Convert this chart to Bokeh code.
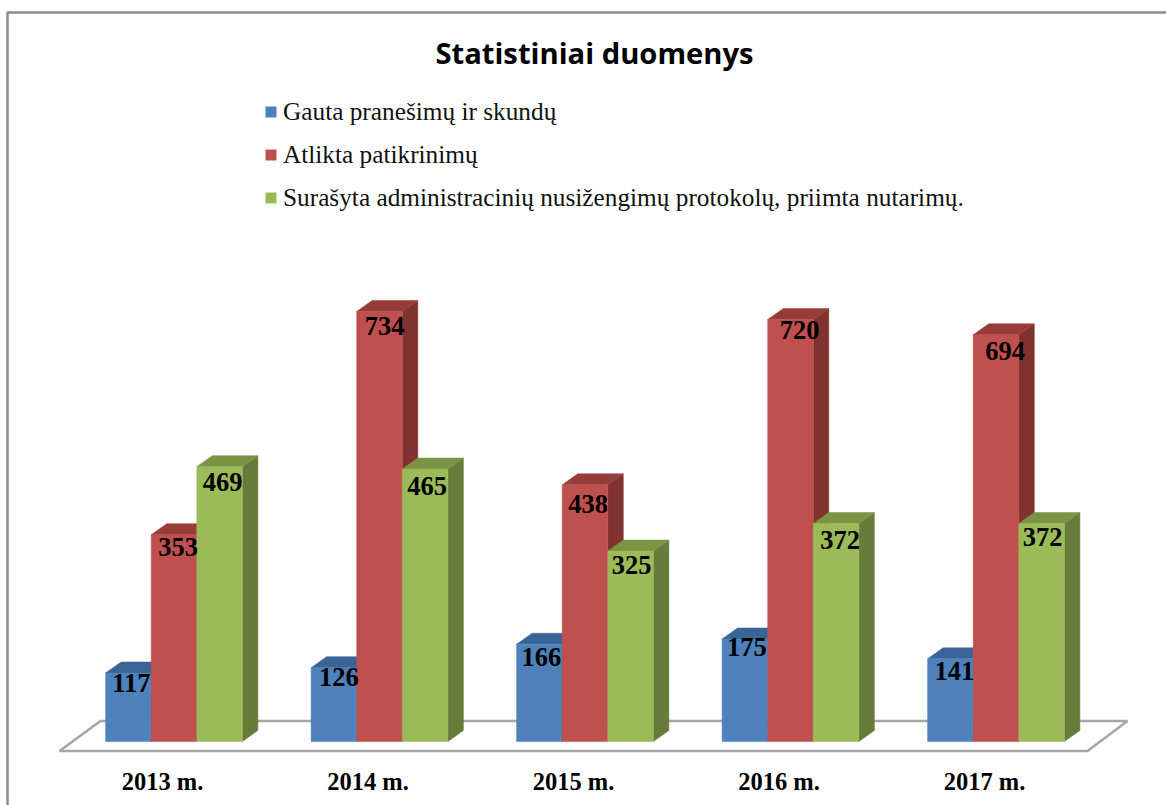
from bokeh.embed import file_html
from bokeh.models import ColumnDataSource, FixedTicker, Legend, LegendItem, Range1d
from bokeh.plotting import figure
from bokeh.resources import INLINE
from bokeh.core.properties import value

TITLE = "Statistiniai duomenys"
years = ["2013 m.", "2014 m.", "2015 m.", "2016 m.", "2017 m."]
series_names = [
    "Gauta pranešimų ir skundų",
    "Atlikta patikrinimų",
    "Surašyta administracinių nusižengimų protokolų, priimta nutarimų.",
]
gauta = [117, 126, 166, 175, 141]
atlikta = [353, 734, 438, 720, 694]
surasyta = [469, 465, 325, 372, 372]

front = ["#4F81BD", "#C0504D", "#9BBB59"]
top = ["#3B6496", "#963D3A", "#7A9444"]
side = ["#35598A", "#7F3230", "#677B3A"]

# label nudges, px relative to the bar's centre and top edge
dx_lab = [[3, 5, 2, 2, 4], [4, 5, 3, 9, 9], [3, 2, 1, 4, 1]]
dy_lab = [[10, 9, 13, 8, 12], [12, 15, 19, 10, 16], [15, 17, 14, 16, 13]]

W, H = 1166, 805
PX_X = 205.5          # px per category
PX_Y = 0.586          # px per value unit
X0, Y0 = 162, 741     # px of first category centre and of zero
xd = lambda px: (px - X0) / PX_X
yd = lambda py: (Y0 - py) / PX_Y

p = figure(width=W, height=H, output_backend="svg", toolbar_location=None,
           x_range=Range1d(xd(0), xd(W)), y_range=Range1d(yd(H), yd(0)),
           min_border=0, margin=0,
           outline_line_color=None, background_fill_color="white")
p.grid.visible = False
p.yaxis.visible = False
ax = p.xaxis[0]
ax.ticker = FixedTicker(ticks=list(range(len(years))))
ax.major_label_overrides = {i: y for i, y in enumerate(years)}
ax.fixed_location = yd(767)
ax.axis_line_color = None
ax.major_tick_line_color = None
ax.minor_tick_line_color = None
ax.major_tick_in = 0
ax.major_tick_out = 0
ax.major_label_text_font = "Liberation Serif"
ax.major_label_text_font_style = "bold"
ax.major_label_text_font_size = "24.5px"
ax.major_label_text_color = "#000000"
ax.major_label_standoff = 0

# chart border (only the top and left edges are visible in the reference)
p.line([xd(7), xd(7), xd(W)], [yd(H), yd(12), yd(12)], line_color="#8C8C8C", line_width=2.5)

# floor
p.patch([xd(59), xd(100), xd(1127), xd(1087)],
        [yd(750.5), yd(720.5), yd(720.5), yd(750.5)],
        fill_color="white", line_color="#A6A6A6", line_width=2.5)

BAR = 45.6 / PX_X
DX = 15.5 / PX_X
DY = 11 / PX_Y
GROUP_SHIFT = 11.5 / PX_X
items = []
for s, vals in enumerate([gauta, atlikta, surasyta]):
    lefts = [i + GROUP_SHIFT + (s - 1.5) * BAR for i in range(len(vals))]
    rights = [l + BAR for l in lefts]
    p.patches([[r, r + DX, r + DX, r] for r in rights],
              [[0, DY, v + DY, v] for v in vals],
              fill_color=side[s], line_color=side[s], line_width=0.5)
    p.patches([[l, l + DX, l + BAR + DX, l + BAR] for l in lefts],
              [[v, v + DY, v + DY, v] for v in vals],
              fill_color=top[s], line_color=top[s], line_width=0.5)
    r = p.quad(left=lefts, right=rights, bottom=[0] * len(vals), top=vals,
               fill_color=front[s], line_color=front[s], line_width=0.5)
    items.append(LegendItem(label=series_names[s], renderers=[r]))

# value labels drawn last so that they sit over every bar
for s, vals in enumerate([gauta, atlikta, surasyta]):
    src = ColumnDataSource(dict(
        x=[i + GROUP_SHIFT + (s - 1) * BAR for i in range(len(vals))],
        y=vals, t=[str(v) for v in vals],
        xo=dx_lab[s], yo=dy_lab[s]))
    p.text("x", "y", text="t", source=src, x_offset="xo", y_offset="yo",
           text_font=value("Liberation Serif"), text_font_style="bold",
           text_font_size="26.5px", text_color="#000000",
           text_align="center", text_baseline="middle")

leg = Legend(items=items, location=(264, 593), orientation="vertical",
             background_fill_alpha=0, border_line_color=None,
             glyph_width=13, glyph_height=13, label_standoff=6, spacing=14,
             label_text_font="Liberation Serif", label_text_font_size="25.3px",
             label_text_color="#111111", margin=0, padding=0)
p.add_layout(leg)

p.text([xd(594)], [yd(52)], text=[TITLE], text_font=value("Open Sans"), text_font_style="bold",
       text_font_size="29.2px", text_color="#000000", text_align="center", text_baseline="middle")

open("out.html", "w").write(file_html(p, INLINE))
